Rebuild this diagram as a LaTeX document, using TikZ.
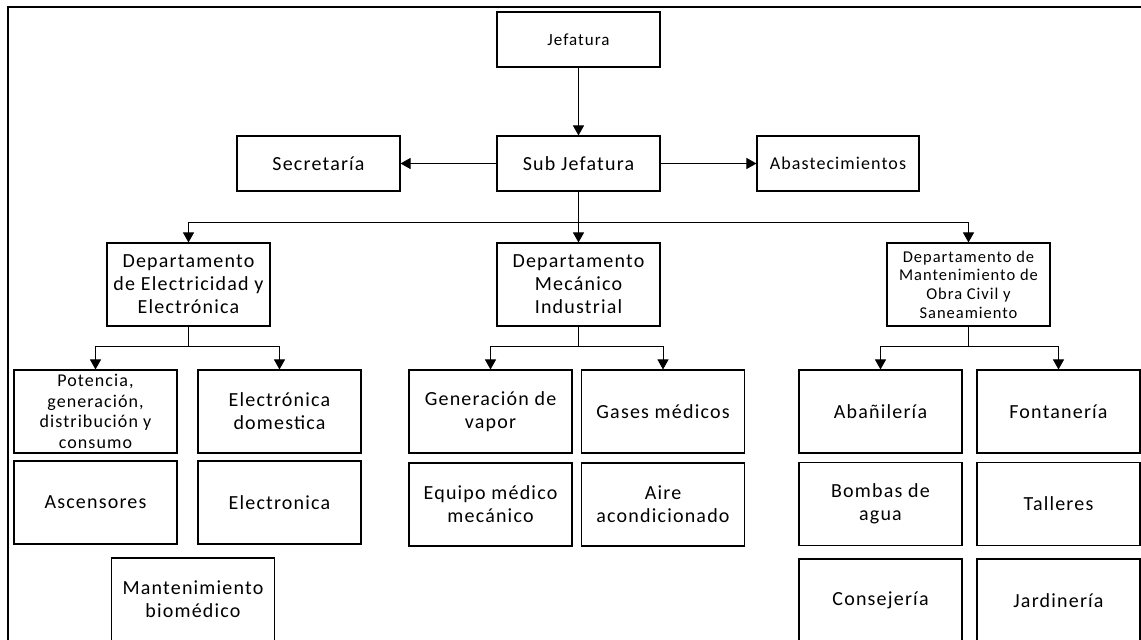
\documentclass[tikz,border=0pt]{standalone}
\usepackage{fontspec}
\setmainfont{Carlito}[LetterSpace=6]
\usetikzlibrary{arrows.meta}
\begin{document}
\begin{tikzpicture}[x=1pt,y=-1pt,
        box/.style={draw,line width=1.1pt,align=center,inner sep=0pt,minimum width=163pt,minimum height=83pt,font=\fontsize{20}{23}\selectfont},
        flat/.style={box,minimum height=55pt},
        arr/.style={-{Triangle[length=10pt,width=11pt]},line width=0.9pt}]
        \clip(0,0)rectangle(1141,640);
        \draw[line width=2.3pt](8,650)--(8,7)--(1150,7);
        % top levels
        \node[flat,font=\fontsize{17}{20}\selectfont](jef)at(578.5,39.5){Jefatura};
        \node[flat](sub)at(578.5,163.5){Sub Jefatura};
        \node[flat](sec)at(318.5,163.5){Secretaría};
        \node[flat,minimum width=162pt,font=\fontsize{18}{21}\selectfont](abas)at(838,163.5){Abastecimientos};
        \node[box](elec)at(188.5,284.5){Departamento\\de Electricidad y\\Electrónica};
        \node[box](mec)at(578.5,284.5){Departamento\\Mecánico\\Industrial};
        \node[box,font=\fontsize{16.5}{18.7}\selectfont](obra)at(968.5,284.5){Departamento de\\Mantenimiento de\\Obra Civil y\\Saneamiento};
        % areas
        \node[box,font=\fontsize{18}{20.7}\selectfont](pot)at(95.5,411.5){Potencia,\\generación,\\distribución y\\consumo};
        \node[box](edom)at(279.5,411.5){Electrónica\\domestica};
        \node[box](asc)at(95.5,502.5){Ascensores};
        \node[box](etro)at(279.5,502.5){Electronica};
        \node[box](mant)at(193,599.5){Mantenimiento\\biomédico};
        \node[box](gvap)at(490.5,411.5){Generación de\\vapor};
        \node[box](gas)at(663,411.5){Gases médicos};
        \node[box](equ)at(490.5,504.5){Equipo médico\\mecánico};
        \node[box](aire)at(663,504.5){Aire\\acondicionado};
        \node[box](alb)at(880.5,411.5){Abañilería};
        \node[box](fon)at(1058.5,411.5){Fontanería};
        \node[box](bom)at(880.5,504){Bombas de\\agua};
        \node[box](tal)at(1058.5,504){Talleres};
        \node[box](con)at(880.5,600.5){Consejería};
        \node[box](jar)at(1058.5,600.5){Jardinería};
        % connectors
        \draw[arr](jef)--(sub);
        \draw[arr](sub)--(sec);
        \draw[arr](sub)--(abas);
        \coordinate(bus)at(578.5,222);
        \draw[line width=0.9pt](sub)--(bus);
        \draw[arr](bus)-|(elec);
        \draw[arr](bus)--(mec);
        \draw[arr](bus)-|(obra);
        \foreach \d/\l/\r in {elec/pot/edom,mec/gvap/gas,obra/alb/fon}{
            \draw[line width=0.9pt](\d.south)--++(0,20)coordinate(\d-bus);
            \draw[arr](\d-bus)-|(\l);
            \draw[arr](\d-bus)-|(\r);
        }
    \end{tikzpicture}
\end{document}
